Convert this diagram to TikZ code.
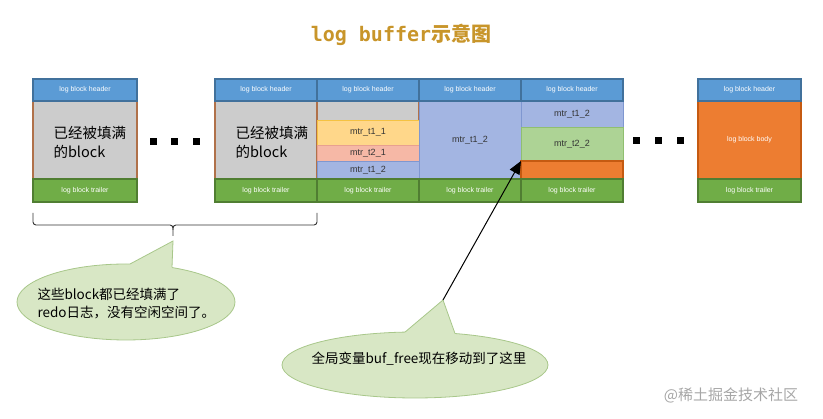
\documentclass[tikz,border=0pt]{standalone}
\usepackage{fontspec}
\setmainfont{Liberation Sans}
\newfontfamily\cjk{Noto Sans CJK SC}
\newfontfamily\monob{DejaVu Sans Mono}
\usetikzlibrary{arrows.meta,shapes.geometric}
\definecolor{hdrfill}{HTML}{5B9BD5}
\definecolor{hdrline}{HTML}{41719C}
\definecolor{trlfill}{HTML}{70AD47}
\definecolor{trlline}{HTML}{507E32}
\definecolor{grayfill}{HTML}{CCCCCC}
\definecolor{grayline}{HTML}{B0714A}
\definecolor{yelfill}{HTML}{FFD78A}
\definecolor{yelline}{HTML}{F5C242}
\definecolor{pinkfill}{HTML}{F6B8A6}
\definecolor{pinkline}{HTML}{E8A090}
\definecolor{bluefill}{HTML}{A3B5E2}
\definecolor{blueline}{HTML}{7F97D0}
\definecolor{grnfill}{HTML}{ADD395}
\definecolor{grnline}{HTML}{90BF70}
\definecolor{orgfill}{HTML}{ED7D31}
\definecolor{orgline}{HTML}{C55A11}
\definecolor{callfill}{HTML}{D8E7C5}
\definecolor{callline}{HTML}{A8C78A}
\definecolor{titlecol}{HTML}{C8952A}
\tikzset{
  cell/.style={anchor=north west, inner sep=0pt, outer sep=0pt, line width=1.3pt},
  sz/.style 2 args={minimum width=#1pt, minimum height=#2pt},
  hdr/.style={cell, fill=hdrfill, draw=hdrline, text=white, font=\fontsize{7}{8}\selectfont},
  trl/.style={cell, fill=trlfill, draw=trlline, text=white, font=\fontsize{7}{8}\selectfont},
  graybody/.style={cell, fill=grayfill, draw=grayline},
  mtr/.style={cell, text=black!80, font=\fontsize{9}{10}\selectfont, line width=0.8pt},
  dotsq/.style={fill=black, inner sep=0pt, minimum size=7pt},
  bigtxt/.style={font=\cjk\fontsize{14.5}{19}\selectfont, align=left, anchor=west},
  calltxt/.style={font=\cjk\fontsize{13.5}{18}\selectfont, align=left},
  callbody/.style={ellipse, draw=callline, fill=callfill, line width=0.8pt, inner sep=0pt},
  ptrfill/.style={fill=callfill},
  ptrline/.style={draw=callline, line width=0.8pt},
}
\begin{document}
\begin{tikzpicture}[x=1pt,y=-1pt]
\useasboundingbox (0,0) rectangle (823,419);
% title
\node[font=\fontsize{20}{22}\selectfont, text=titlecol, inner sep=0pt] (title) at (401,35) {{\monob\bfseries log buffer}{\cjk\bfseries 示意图}};
% block 1
\node[graybody, sz={104}{78}] (b1) at (33,101) {};
\node[hdr, sz={104}{22}] (h1) at (33,79) {log block header};
\node[trl, sz={104}{23}] (t1) at (33,179) {log block trailer};
\node[bigtxt] (l1) at (50,142) {已经被填满\\的block};
% dots 1
\node[dotsq] (d1) at (153,142) {};
\node[dotsq] (d2) at (174,142) {};
\node[dotsq] (d3) at (196,142) {};
% block 2
\node[graybody, sz={102}{78}] (b2) at (215,101) {};
\node[hdr, sz={102}{22}] (h2) at (215,79) {log block header};
\node[trl, sz={102}{23}] (t2) at (215,179) {log block trailer};
\node[bigtxt] (l2) at (232,142) {已经被填满\\的block};
% block 3
\node[graybody, sz={102}{78}] (b3) at (317,101) {};
\node[mtr, fill=yelfill, draw=yelline, sz={102}{25}] (y3) at (317,120) {mtr\_t1\_1};
\node[mtr, fill=pinkfill, draw=pinkline, sz={102}{16}] (p3) at (317,145) {mtr\_t2\_1};
\node[mtr, fill=bluefill, draw=blueline, sz={102}{18}] (u3) at (317,161) {mtr\_t1\_2};
\node[hdr, sz={102}{22}] (h3) at (317,79) {log block header};
\node[trl, sz={102}{23}] (t3) at (317,179) {log block trailer};
% block 4
\node[mtr, fill=bluefill, draw=blueline, sz={102}{78}] (u4) at (419,101) {mtr\_t1\_2};
\node[hdr, sz={102}{22}] (h4) at (419,79) {log block header};
\node[trl, sz={102}{23}] (t4) at (419,179) {log block trailer};
% block 5
\node[mtr, fill=bluefill, draw=blueline, sz={102}{26}] (u5) at (521,101) {mtr\_t1\_2};
\node[mtr, fill=grnfill, draw=grnline, sz={102}{34}] (g5) at (521,127) {mtr\_t2\_2};
\node[cell, fill=orgfill, draw=orgline, sz={102}{18}] (o5) at (521,161) {};
\node[hdr, sz={102}{22}] (h5) at (521,79) {log block header};
\node[trl, sz={102}{23}] (t5) at (521,179) {log block trailer};
% dots 2
\node[dotsq] (d4) at (636,141) {};
\node[dotsq] (d5) at (658,141) {};
\node[dotsq] (d6) at (680,141) {};
% block 6
\node[cell, fill=orgfill, draw=orgline, sz={103}{78}, text=white, font=\fontsize{7}{8}\selectfont] (o6) at (698,101) {log block body};
\node[hdr, sz={103}{22}] (h6) at (698,79) {log block header};
\node[trl, sz={103}{23}] (t6) at (698,179) {log block trailer};
% brace
\draw[line width=0.9pt, black!80, rounded corners=3pt] (33,213) -- (33,225) -- (173,225) -- (173,236);
\draw[line width=0.9pt, black!80, rounded corners=3pt] (173,230) -- (173,225) -- (317,225) -- (317,213);
% callout 1
\node[callbody, minimum width=218pt, minimum height=76pt] (c1) at (126,302) {};
\coordinate (p1) at (173,241);
\fill[ptrfill] (130,264) -- (p1) -- (172,267.5) -- (172,273) -- (130,273) -- cycle;
\draw[ptrline] (130,264) -- (p1) -- (172,267.5);
\node[calltxt, anchor=west] (c1t) at (34,304) {这些block都已经填满了\\redo日志，没有空闲空间了。};
% callout 2
\node[callbody, minimum width=266pt, minimum height=66pt] (c2) at (415,365) {};
\coordinate (p2) at (443,300);
\fill[ptrfill] (405,332.1) -- (p2) -- (455,333.5) -- (455,338) -- (405,338) -- cycle;
\draw[ptrline] (405,332.1) -- (p2) -- (455,333.5);
\node[calltxt] (c2t) at (419,359) {全局变量buf\_free现在移动到了这里};
% arrow
\draw[line width=1pt, -{Triangle[length=13pt,width=11pt]}] (p2) -- (o5.north west);
% watermark
\node[font=\cjk\fontsize{15}{16}\selectfont, text=black!35] (wm) at (731,395) {@稀土掘金技术社区};
\end{tikzpicture}
\end{document}
